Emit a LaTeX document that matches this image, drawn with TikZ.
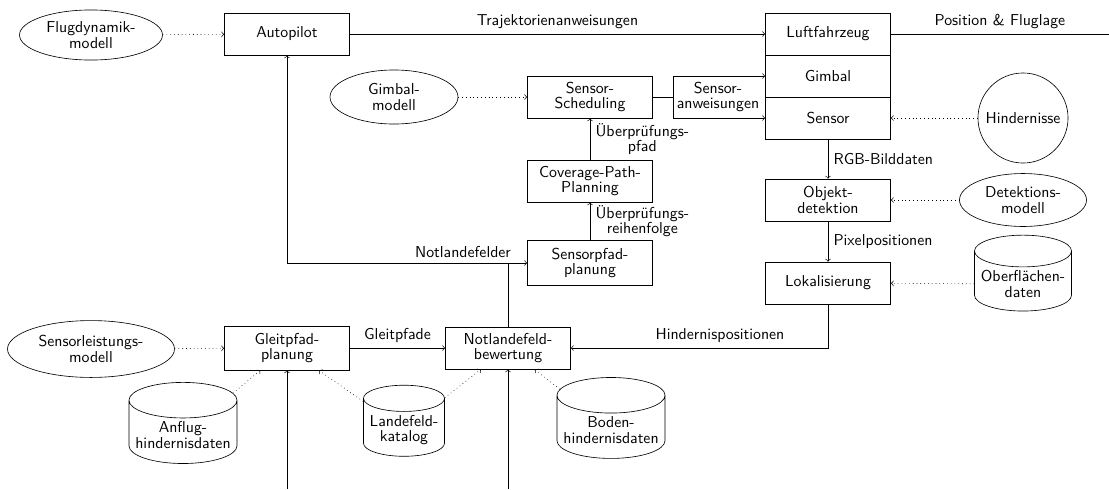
\documentclass[tikz,border=0pt]{standalone}
\usepackage{fontspec}
\usetikzlibrary{shapes.geometric}
\begin{document}
\begin{tikzpicture}[x=0.633pt,y=-0.633pt,
  font=\sffamily\fontsize{10}{10}\selectfont,
  box/.style={draw, minimum width=79.1pt, minimum height=26.6pt, align=center, inner sep=2pt},
  model/.style={draw, ellipse, align=center, inner sep=1pt},
  data/.style={draw, cylinder, shape border rotate=90, aspect=0.35, align=center, inner sep=2pt},
  dep/.style={->, dotted},
  lbl/.style={align=center}]
\useasboundingbox (0,0) rectangle (1109,489);

% main boxes
\node[box] (ap) at (287,34) {Autopilot};
\node[box] (lf) at (828,34) {Luftfahrzeug};
\node[box] (gb) at (828,76) {Gimbal};
\node[box] (sn) at (828,118) {Sensor};
\node[box] (ss) at (590,97) {Sensor-\\Scheduling};
\node[box] (cp) at (590,181) {Coverage-Path-\\Planning};
\node[box, minimum height=28.5pt] (sp) at (590,263) {Sensorpfad-\\planung};
\node[box] (od) at (828,200) {Objekt-\\detektion};
\node[box] (lk) at (828,283) {Lokalisierung};
\node[box] (nb) at (508,348) {Notlandefeld-\\bewertung};
\node[box, minimum height=27.8pt] (gp) at (287,348) {Gleitpfad-\\planung};

% models
\node[model, minimum width=90.5pt, minimum height=31.7pt] (fd) at (91,35) {Flugdynamik-\\modell};
\node[model, minimum width=81pt, minimum height=34.2pt] (gm) at (394,97) {Gimbal-\\modell};
\node[model, minimum width=80.4pt, minimum height=33.5pt] (dm) at (1023,200) {Detektions-\\modell};
\node[model, minimum width=105.7pt, minimum height=36pt] (sl) at (91,349) {Sensorleistungs-\\modell};
\node[draw, circle, minimum size=57pt, inner sep=1pt] (hi) at (1023,118) {Hindernisse};

% data
\node[data, minimum width=61.4pt, minimum height=42.4pt] (of) at (1023,284) {Oberflächen-\\daten};
\node[data, minimum width=68.4pt, minimum height=48.1pt] (ah) at (183,435) {Anflug-\\hindernisdaten};
\node[data, minimum width=51.3pt, minimum height=43pt] (lc) at (404,430) {Landefeld-\\katalog};
\node[data, minimum width=68.4pt, minimum height=42.4pt] (bh) at (611,430) {Boden-\\hindernisdaten};

% coordinates
\coordinate (pe) at (1109,34);
\coordinate (f) at (673,97);
\coordinate (j) at (nb.north |- sp.west);
\coordinate (b1) at (287,489);
\coordinate (b2) at (508,489);

% solid connectors
\draw[->] (ap) -- node[above] {Trajektorienanweisungen} (lf);
\draw (lf) -- node[above] {Position \& Fluglage} (pe);
\draw (ss) -- (f);
\draw[->] (f) |- (gb);
\draw[->] (f) |- (sn);
\node[lbl] (sa) at (718,97) {Sensor-\\anweisungen};
\draw[->] (cp) -- node[right, lbl] {Überprüfungs-\\pfad} (ss);
\draw[->] (sp) -- node[right, lbl] {Überprüfungs-\\reihenfolge} (cp);
\draw[->] (nb) -- (j) -| (ap);
\draw[->] (j) -- (sp);
\node[above] (nl) at (463,263) {Notlandefelder};
\draw[->] (sn) -- node[right] {RGB-Bilddaten} (od);
\draw[->] (od) -- node[right] {Pixelpositionen} (lk);
\draw[->] (lk) |- node[pos=0.71, above] {Hindernispositionen} (nb);
\draw[->] (gp) -- node[above] {Gleitpfade} (nb);
\draw[->] (b1) -- (gp);
\draw[->] (b2) -- (nb);

% dotted dependencies
\draw[dep] (fd) -- (ap);
\draw[dep] (gm) -- (ss);
\draw[dep] (hi) -- (sn);
\draw[dep] (dm) -- (od);
\draw[dep] (of) -- (lk);
\draw[dep] (sl) -- (gp);
\draw[dep] (ah) -- (gp);
\draw[dep] (lc) -- (gp);
\draw[dep] (lc) -- (nb);
\draw[dep] (bh) -- (nb);
\end{tikzpicture}
\end{document}
